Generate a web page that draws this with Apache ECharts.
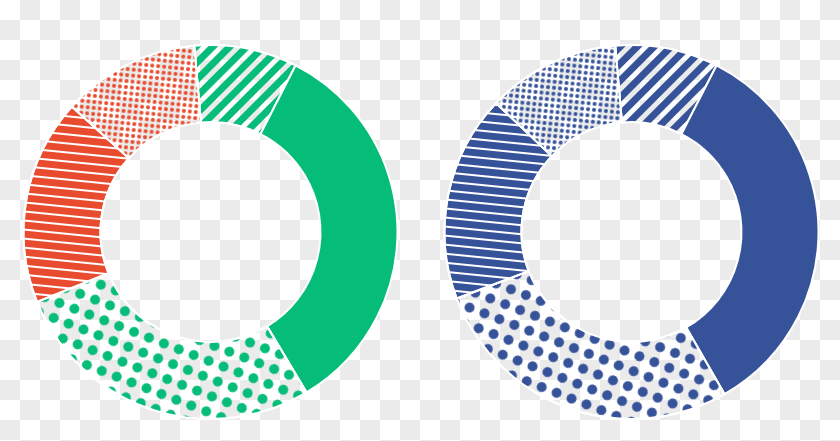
<!DOCTYPE html>
<html>
<head>
<meta charset="utf-8">
<script src="https://cdn.jsdelivr.net/npm/echarts@6/dist/echarts.min.js"></script>
<style>
  html, body { margin: 0; padding: 0; }
  #chart {
    width: 840px; height: 441px;
    background-color: #ffffff;
    background-image: repeating-conic-gradient(#ebebeb 0 25%, #ffffff 0 50%);
    background-size: 40px 40px;
    background-position: 0 0;
  }
</style>
</head>
<body>
<div id="chart"></div>
<script>
// Segment names (clockwise from top)
const categories = ['Striped', 'Solid', 'Dotted', 'Lined', 'Fine dots'];
// Left donut values (share of the circle, %)
const leftValues = [8.9, 33.9, 27.5, 17.8, 11.9];
// Right donut values (share of the circle, %)
const rightValues = [8.9, 34.2, 27.5, 17.9, 11.5];

const GREEN = '#05bc78';
const RED = '#e94b2f';
const BLUE = '#36539a';
const CLEAR = 'rgba(0,0,0,0)';

function decals(mainColor, accentColor) {
  return [
    { color: CLEAR, decal: { symbol: 'rect', symbolSize: 1, color: mainColor, dashArrayX: [1, 0], dashArrayY: [6.3, 4.2], rotation: -Math.PI / 4 } },
    { color: mainColor, decal: null },
    { color: CLEAR, decal: { symbol: 'circle', symbolSize: 1, color: mainColor, dashArrayX: [10, 5.5], dashArrayY: [10, 5.5], rotation: 0.37 } },
    { color: accentColor, decal: { symbol: 'rect', symbolSize: 1, color: '#ffffff', dashArrayX: [1, 0], dashArrayY: [1.4, 6.9], rotation: 0.1 } },
    { color: CLEAR, decal: { symbol: 'circle', symbolSize: 1, color: accentColor, dashArrayX: [3.5, 1.6], dashArrayY: [3.5, 1.6], rotation: 0.1 } }
  ];
}

function buildData(values, mainColor, accentColor) {
  const styles = decals(mainColor, accentColor);
  return values.map((v, i) => {
    const s = styles[i];
    const itemStyle = { color: s.color };
    if (s.decal) itemStyle.decal = s.decal;
    return { name: categories[i], value: v, itemStyle };
  });
}

const chart = echarts.init(document.getElementById('chart'), null, { renderer: 'canvas' });
const common = {
  type: 'pie',
  radius: [110, 187],
  startAngle: 95,
  clockwise: true,
  avoidLabelOverlap: false,
  label: { show: false },
  labelLine: { show: false },
  emphasis: { disabled: true },
  animation: false,
  itemStyle: { borderColor: '#ffffff', borderWidth: 2 }
};
chart.setOption({
  backgroundColor: 'transparent',
  animation: false,
  series: [
    Object.assign({}, common, { center: [210.5, 232], data: buildData(leftValues, GREEN, RED) }),
    Object.assign({}, common, { center: [631.5, 232], data: buildData(rightValues, BLUE, BLUE) })
  ]
});
</script>
</body>
</html>
